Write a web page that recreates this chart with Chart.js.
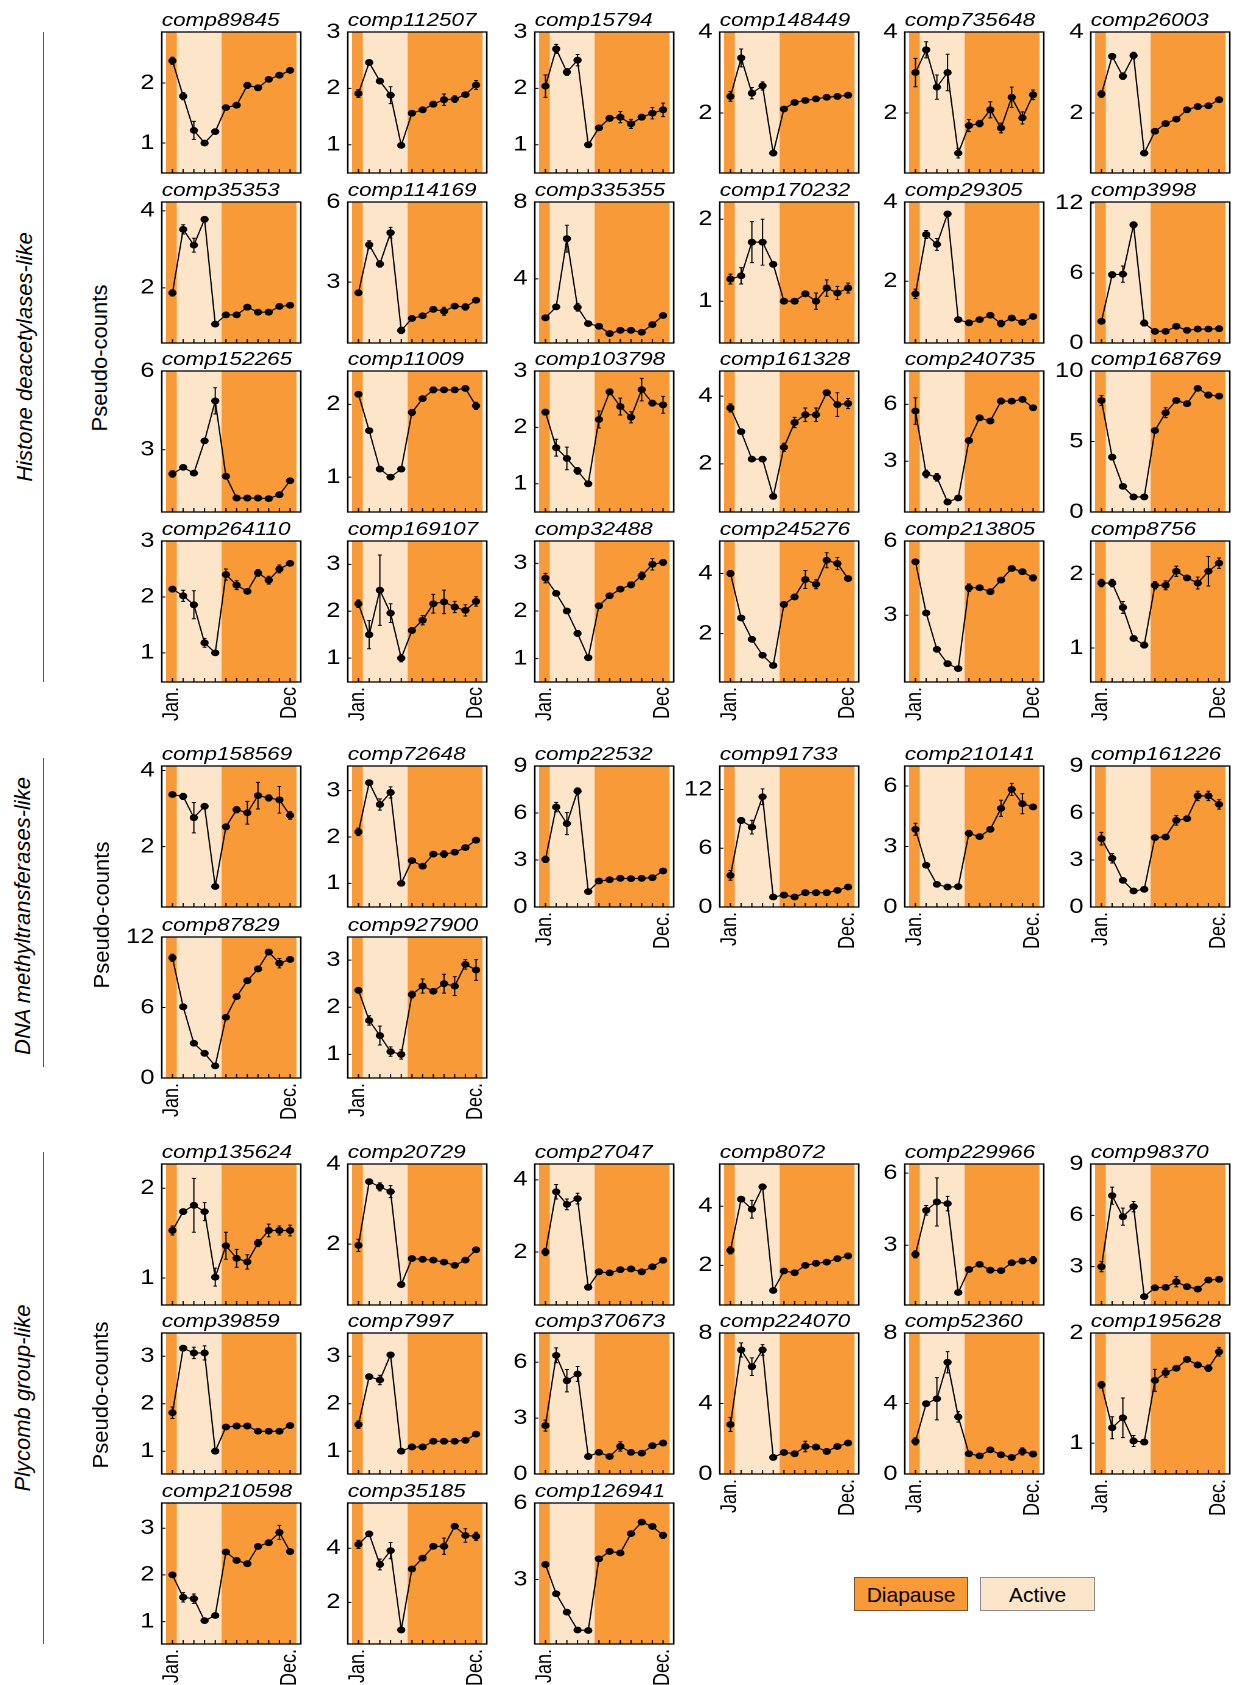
<!DOCTYPE html>
<html>
<head>
<meta charset="utf-8">
<script src="https://cdn.jsdelivr.net/npm/chart.js@4.4.1/dist/chart.umd.min.js"></script>
<style>
  body { margin: 0; background: #fff; width: 1237px; height: 1685px; position: relative; overflow: hidden;
         font-family: "Liberation Sans", Arial, sans-serif; color: #000; }
  .panel { position: absolute; transform-origin: 0 0; }
  .panel canvas { display: block; }
  .vlabel { position: absolute; white-space: nowrap; font-size: 22px; line-height: 1;
            transform: translate(-50%, -50%) rotate(-90deg); }
  .group { font-style: italic; }
  .bracket { position: absolute; left: 43px; width: 0; border-left: 1.5px solid #555; }
  .key { position: absolute; top: 1577px; height: 34px; line-height: 34px; text-align: center;
         font-size: 21px; box-sizing: border-box; }
</style>
</head>
<body>
<script>
// sampling months (x positions) and the season boundaries, in month units
const months = [1, 2, 3, 4, 5, 6, 7, 8, 9, 10, 11, 12];
const janLabel = 'Jan.';
const decLabels = ['Dec', 'Dec.', 'Dec.'];
const diapauseSpan = [0.4, 12.6];
const activeSpan = [1.4, 5.6];

const groupNames = ['Histone deacetylases-like', 'DNA methyltransferases-like', 'Plycomb group-like'];
const axisTitle = 'Pseudo-counts';
const legendLabels = ['Diapause', 'Active'];

const names = [
  'comp89845', 'comp112507', 'comp15794', 'comp148449', 'comp735648', 'comp26003',
  'comp35353', 'comp114169', 'comp335355', 'comp170232', 'comp29305', 'comp3998',
  'comp152265', 'comp11009', 'comp103798', 'comp161328', 'comp240735', 'comp168769',
  'comp264110', 'comp169107', 'comp32488', 'comp245276', 'comp213805', 'comp8756',
  'comp158569', 'comp72648', 'comp22532', 'comp91733', 'comp210141', 'comp161226',
  'comp87829', 'comp927900',
  'comp135624', 'comp20729', 'comp27047', 'comp8072', 'comp229966', 'comp98370',
  'comp39859', 'comp7997', 'comp370673', 'comp224070', 'comp52360', 'comp195628',
  'comp210598', 'comp35185', 'comp126941'
];

const yMin = [
  0.5, 0.5, 0.5, 0.52, 0.52, 0.52,
  0.57, 0.72, 0.66, 0.49, 0.44, 0,
  0.63, 0.52, 0.5, 0.58, 0.32, 0,
  0.48, 0.49, 0.51, 0.39, 0.3, 0.54,
  0.41, 0.49, 0, 0, 0, 0,
  0, 0.5,
  0.7, 0.48, 0.53, 0.66, 0.51, 0.76,
  0.52, 0.52, 0, 0, 0, 0.72,
  0.52, 0.46, 0.47
];
const yMax = [
  2.85, 3, 3, 4, 4, 4,
  4.23, 6, 8, 2.21, 4, 12.1,
  6, 2.46, 3, 4.74, 7.76, 10,
  3, 3.5, 3.47, 5.08, 6, 2.45,
  4.12, 3.53, 9, 14.4, 6.99, 9,
  12, 3.49,
  2.27, 4, 4.44, 5.43, 6.38, 9,
  3.49, 3.49, 7.57, 8, 8, 2,
  3.54, 5.67, 6
];
const yTicks = [
  [1, 2], [1, 2, 3], [1, 2, 3], [2, 4], [2, 4], [2, 4],
  [2, 4], [3, 6], [4, 8], [1, 2], [2, 4], [0, 6, 12],
  [3, 6], [1, 2], [1, 2, 3], [2, 4], [3, 6], [0, 5, 10],
  [1, 2, 3], [1, 2, 3], [1, 2, 3], [2, 4], [3, 6], [1, 2],
  [2, 4], [1, 2, 3], [0, 3, 6, 9], [0, 6, 12], [0, 3, 6], [0, 3, 6, 9],
  [0, 6, 12], [1, 2, 3],
  [1, 2], [2, 4], [2, 4], [2, 4], [3, 6], [3, 6, 9],
  [1, 2, 3], [1, 2, 3], [0, 3, 6], [0, 4, 8], [0, 4, 8], [1, 2],
  [1, 2, 3], [2, 4], [3, 6]
];

const values = [
  [2.37, 1.78, 1.21, 1.00, 1.19, 1.59, 1.63, 1.96, 1.92, 2.06, 2.13, 2.21],
  [1.91, 2.46, 2.13, 1.88, 0.99, 1.56, 1.62, 1.72, 1.80, 1.81, 1.89, 2.06],
  [2.04, 2.70, 2.29, 2.50, 1.00, 1.30, 1.47, 1.49, 1.37, 1.49, 1.56, 1.62],
  [2.41, 3.36, 2.49, 2.67, 1.01, 2.10, 2.26, 2.31, 2.35, 2.39, 2.41, 2.44],
  [3.00, 3.56, 2.64, 3.00, 1.01, 1.69, 1.74, 2.08, 1.63, 2.39, 1.88, 2.45],
  [2.47, 3.40, 2.91, 3.42, 1.01, 1.55, 1.74, 1.85, 2.08, 2.16, 2.18, 2.33],
  [1.87, 3.52, 3.11, 3.78, 1.06, 1.30, 1.30, 1.50, 1.37, 1.37, 1.52, 1.55],
  [2.60, 4.40, 3.68, 4.85, 1.19, 1.64, 1.74, 1.98, 1.91, 2.10, 2.07, 2.32],
  [1.97, 2.54, 6.09, 2.52, 1.67, 1.53, 1.15, 1.32, 1.32, 1.22, 1.62, 2.09],
  [1.27, 1.31, 1.72, 1.72, 1.45, 1.00, 1.00, 1.09, 1.00, 1.16, 1.10, 1.16],
  [1.68, 3.18, 2.93, 3.70, 1.03, 0.95, 1.03, 1.14, 0.93, 1.07, 0.96, 1.11],
  [1.86, 5.86, 5.91, 10.14, 1.71, 1.00, 1.00, 1.43, 1.09, 1.20, 1.20, 1.23],
  [2.08, 2.33, 2.11, 3.34, 4.86, 1.99, 1.16, 1.16, 1.16, 1.14, 1.29, 1.82],
  [2.14, 1.64, 1.11, 1.00, 1.11, 1.89, 2.08, 2.20, 2.20, 2.20, 2.22, 1.98],
  [2.27, 1.64, 1.45, 1.23, 1.00, 2.14, 2.63, 2.37, 2.18, 2.67, 2.43, 2.40],
  [3.65, 2.95, 2.14, 2.14, 1.04, 2.49, 3.22, 3.45, 3.45, 4.10, 3.75, 3.78],
  [5.65, 2.33, 2.15, 0.85, 1.06, 4.09, 5.29, 5.12, 6.17, 6.17, 6.26, 5.82],
  [7.91, 3.89, 1.82, 1.07, 1.07, 5.78, 7.04, 7.91, 7.68, 8.77, 8.29, 8.22],
  [2.14, 2.02, 1.86, 1.18, 1.00, 2.40, 2.21, 2.10, 2.43, 2.30, 2.50, 2.60],
  [2.16, 1.50, 2.45, 1.96, 1.00, 1.59, 1.81, 2.16, 2.20, 2.09, 2.02, 2.21],
  [2.69, 2.37, 2.00, 1.53, 1.02, 2.11, 2.32, 2.46, 2.55, 2.74, 2.98, 3.02],
  [4.00, 2.52, 1.81, 1.28, 0.94, 2.97, 3.22, 3.80, 3.64, 4.44, 4.33, 3.83],
  [5.16, 3.09, 1.62, 1.04, 0.84, 4.11, 4.11, 3.95, 4.42, 4.89, 4.76, 4.51],
  [1.88, 1.88, 1.55, 1.13, 1.04, 1.85, 1.85, 2.04, 1.95, 1.88, 2.04, 2.15],
  [3.37, 3.32, 2.76, 3.06, 0.95, 2.52, 2.97, 2.89, 3.34, 3.28, 3.23, 2.82],
  [2.11, 3.17, 2.70, 2.96, 1.00, 1.49, 1.37, 1.63, 1.63, 1.67, 1.77, 1.93],
  [3.04, 6.38, 5.32, 7.40, 0.98, 1.66, 1.74, 1.83, 1.81, 1.83, 1.87, 2.30],
  [3.23, 8.84, 8.16, 11.26, 1.02, 1.22, 1.02, 1.46, 1.46, 1.46, 1.70, 2.04],
  [3.85, 2.07, 1.12, 0.99, 1.01, 3.65, 3.49, 3.85, 4.89, 5.83, 5.12, 4.96],
  [4.36, 3.11, 1.70, 1.02, 1.13, 4.43, 4.47, 5.53, 5.64, 7.09, 7.09, 6.55],
  [10.23, 6.06, 2.96, 2.10, 1.03, 5.17, 6.93, 8.28, 9.28, 10.72, 9.77, 10.09],
  [2.36, 1.72, 1.40, 1.06, 1.00, 2.27, 2.45, 2.34, 2.50, 2.45, 2.91, 2.79],
  [1.53, 1.74, 1.81, 1.74, 1.01, 1.36, 1.22, 1.18, 1.39, 1.53, 1.53, 1.53],
  [1.97, 3.56, 3.43, 3.31, 0.99, 1.64, 1.62, 1.60, 1.55, 1.47, 1.60, 1.86],
  [2.00, 3.67, 3.32, 3.48, 1.02, 1.45, 1.42, 1.51, 1.53, 1.45, 1.59, 1.77],
  [2.51, 4.24, 3.90, 4.66, 1.15, 1.81, 1.75, 2.00, 2.07, 2.11, 2.23, 2.32],
  [2.62, 4.45, 4.80, 4.73, 1.03, 1.99, 2.20, 1.96, 1.94, 2.27, 2.34, 2.38],
  [3.00, 7.15, 5.92, 6.51, 1.25, 1.77, 1.79, 2.12, 1.83, 1.69, 2.22, 2.26],
  [1.81, 3.17, 3.07, 3.07, 1.00, 1.51, 1.53, 1.53, 1.42, 1.42, 1.42, 1.54],
  [1.56, 2.57, 2.50, 3.03, 1.00, 1.09, 1.09, 1.21, 1.21, 1.21, 1.23, 1.36],
  [2.60, 6.37, 5.01, 5.37, 0.94, 1.16, 0.94, 1.48, 1.16, 1.12, 1.52, 1.66],
  [2.81, 7.04, 6.09, 7.04, 0.94, 1.22, 1.15, 1.56, 1.53, 1.28, 1.56, 1.76],
  [1.85, 3.99, 4.27, 6.34, 3.24, 1.15, 1.03, 1.37, 1.09, 0.94, 1.28, 1.13],
  [1.53, 1.14, 1.23, 1.02, 1.01, 1.57, 1.64, 1.68, 1.76, 1.71, 1.68, 1.83],
  [2.00, 1.52, 1.49, 1.02, 1.13, 2.49, 2.31, 2.24, 2.61, 2.69, 2.91, 2.50],
  [4.14, 4.53, 3.40, 3.91, 0.98, 3.23, 3.63, 4.07, 4.07, 4.81, 4.47, 4.44],
  [3.59, 2.44, 1.72, 1.02, 1.00, 3.81, 4.10, 4.04, 4.80, 5.25, 5.08, 4.73]
];

// standard errors (half length of each error bar)
const errors = [
  [0.06, 0.06, 0.15, 0.03, 0.04, 0.04, 0.04, 0.05, 0.04, 0.04, 0.04, 0.03],
  [0.07, 0.03, 0.04, 0.15, 0.03, 0.03, 0.04, 0.05, 0.10, 0.06, 0.04, 0.08],
  [0.20, 0.08, 0.06, 0.10, 0.03, 0.04, 0.05, 0.10, 0.08, 0.05, 0.10, 0.12],
  [0.12, 0.22, 0.14, 0.10, 0.05, 0.05, 0.04, 0.05, 0.05, 0.06, 0.05, 0.06],
  [0.35, 0.20, 0.30, 0.45, 0.12, 0.15, 0.08, 0.20, 0.12, 0.25, 0.15, 0.12],
  [0.08, 0.04, 0.08, 0.08, 0.04, 0.04, 0.04, 0.05, 0.04, 0.04, 0.05, 0.04],
  [0.08, 0.12, 0.18, 0.05, 0.04, 0.06, 0.05, 0.04, 0.05, 0.05, 0.07, 0.05],
  [0.08, 0.15, 0.12, 0.20, 0.12, 0.05, 0.06, 0.10, 0.15, 0.07, 0.12, 0.06],
  [0.08, 0.08, 0.70, 0.20, 0.10, 0.06, 0.08, 0.06, 0.08, 0.05, 0.05, 0.06],
  [0.06, 0.10, 0.25, 0.28, 0.03, 0.03, 0.03, 0.03, 0.10, 0.10, 0.08, 0.06],
  [0.12, 0.10, 0.15, 0.06, 0.04, 0.04, 0.04, 0.05, 0.08, 0.04, 0.06, 0.05],
  [0.15, 0.25, 0.70, 0.25, 0.25, 0.20, 0.15, 0.12, 0.10, 0.12, 0.10, 0.15],
  [0.12, 0.06, 0.06, 0.08, 0.50, 0.05, 0.04, 0.04, 0.04, 0.05, 0.05, 0.05],
  [0.03, 0.03, 0.03, 0.02, 0.03, 0.04, 0.03, 0.04, 0.03, 0.03, 0.03, 0.05],
  [0.05, 0.15, 0.20, 0.06, 0.03, 0.15, 0.05, 0.15, 0.10, 0.20, 0.05, 0.15],
  [0.12, 0.05, 0.04, 0.04, 0.05, 0.12, 0.15, 0.20, 0.20, 0.05, 0.35, 0.15],
  [0.70, 0.20, 0.20, 0.08, 0.08, 0.10, 0.08, 0.08, 0.15, 0.12, 0.10, 0.10],
  [0.35, 0.20, 0.10, 0.08, 0.08, 0.15, 0.35, 0.15, 0.12, 0.15, 0.20, 0.15],
  [0.05, 0.10, 0.25, 0.08, 0.03, 0.10, 0.08, 0.04, 0.06, 0.07, 0.07, 0.04],
  [0.08, 0.30, 0.75, 0.20, 0.08, 0.06, 0.10, 0.20, 0.25, 0.12, 0.12, 0.10],
  [0.10, 0.04, 0.05, 0.06, 0.04, 0.04, 0.05, 0.05, 0.06, 0.08, 0.12, 0.06],
  [0.10, 0.05, 0.05, 0.05, 0.05, 0.06, 0.06, 0.30, 0.15, 0.25, 0.20, 0.08],
  [0.05, 0.08, 0.10, 0.06, 0.06, 0.15, 0.10, 0.08, 0.10, 0.10, 0.08, 0.12],
  [0.05, 0.05, 0.08, 0.03, 0.04, 0.05, 0.06, 0.07, 0.03, 0.08, 0.20, 0.07],
  [0.05, 0.08, 0.40, 0.03, 0.05, 0.05, 0.08, 0.30, 0.35, 0.08, 0.35, 0.10],
  [0.08, 0.04, 0.12, 0.12, 0.04, 0.04, 0.04, 0.04, 0.07, 0.04, 0.04, 0.04],
  [0.20, 0.30, 0.70, 0.20, 0.10, 0.08, 0.08, 0.08, 0.08, 0.08, 0.10, 0.10],
  [0.50, 0.30, 0.70, 0.80, 0.15, 0.10, 0.10, 0.10, 0.10, 0.10, 0.10, 0.12],
  [0.30, 0.10, 0.08, 0.06, 0.06, 0.15, 0.12, 0.12, 0.40, 0.30, 0.50, 0.12],
  [0.40, 0.30, 0.12, 0.08, 0.08, 0.12, 0.12, 0.30, 0.12, 0.30, 0.30, 0.30],
  [0.30, 0.15, 0.10, 0.08, 0.08, 0.12, 0.12, 0.12, 0.15, 0.12, 0.40, 0.15],
  [0.03, 0.10, 0.20, 0.10, 0.10, 0.07, 0.15, 0.04, 0.20, 0.20, 0.10, 0.22],
  [0.05, 0.03, 0.30, 0.10, 0.10, 0.15, 0.10, 0.08, 0.04, 0.07, 0.05, 0.06],
  [0.15, 0.04, 0.10, 0.15, 0.04, 0.04, 0.04, 0.04, 0.04, 0.04, 0.05, 0.04],
  [0.10, 0.20, 0.15, 0.15, 0.04, 0.04, 0.04, 0.05, 0.05, 0.04, 0.04, 0.04],
  [0.12, 0.06, 0.30, 0.06, 0.05, 0.05, 0.05, 0.05, 0.05, 0.05, 0.05, 0.05],
  [0.15, 0.20, 1.00, 0.30, 0.05, 0.06, 0.06, 0.10, 0.06, 0.08, 0.10, 0.15],
  [0.30, 0.50, 0.50, 0.30, 0.10, 0.10, 0.10, 0.30, 0.10, 0.10, 0.10, 0.10],
  [0.12, 0.04, 0.12, 0.15, 0.03, 0.05, 0.04, 0.05, 0.04, 0.04, 0.05, 0.04],
  [0.08, 0.04, 0.10, 0.05, 0.03, 0.04, 0.04, 0.05, 0.04, 0.04, 0.04, 0.04],
  [0.30, 0.40, 0.60, 0.40, 0.15, 0.12, 0.10, 0.25, 0.10, 0.10, 0.12, 0.10],
  [0.40, 0.40, 0.50, 0.30, 0.12, 0.10, 0.10, 0.30, 0.10, 0.12, 0.12, 0.12],
  [0.20, 0.10, 1.20, 0.60, 0.30, 0.10, 0.10, 0.10, 0.10, 0.10, 0.20, 0.10],
  [0.03, 0.10, 0.18, 0.05, 0.02, 0.10, 0.04, 0.02, 0.02, 0.02, 0.03, 0.04],
  [0.03, 0.10, 0.10, 0.04, 0.04, 0.05, 0.05, 0.04, 0.04, 0.04, 0.15, 0.05],
  [0.15, 0.05, 0.20, 0.30, 0.05, 0.05, 0.05, 0.05, 0.30, 0.05, 0.25, 0.15],
  [0.04, 0.06, 0.06, 0.05, 0.05, 0.05, 0.05, 0.05, 0.05, 0.05, 0.10, 0.12]
];

// ---- layout (page pixels) ----
const DIAPAUSE = '#F89A37';
const ACTIVE = '#FDE5CA';
const colX = [162, 348, 535, 720, 905, 1091];
const rowY = [32, 202, 371, 541, 766, 937, 1164, 1333, 1503];
const rowCounts = [6, 6, 6, 6, 6, 2, 6, 6, 3];
const rowGroup = [0, 0, 0, 0, 1, 1, 2, 2, 2];
const groupLabelPos = [[25, 357], [23, 916], [23, 1398]];
const axisTitlePos = [[100, 358], [102, 915], [101, 1395]];
const bracketSpan = [[32, 682], [758, 1067], [1152, 1644]];

// panels are drawn narrow and stretched sideways, like the original figure
const AW = 114, AH = 141, K = 139 / AW;
const YW = 40, RP = 4, TT = 30, XH = 46;

Chart.defaults.font.family = '"Liberation Sans", Arial, sans-serif';
Chart.defaults.color = '#000';

const panelPlugin = {
  id: 'panel',
  beforeDatasetsDraw(chart, args, opts) {
    const { ctx, chartArea: a, scales: { x, y } } = chart;
    ctx.save();
    ctx.fillStyle = '#fff';
    ctx.fillRect(a.left, a.top, a.width, a.height);
    const d0 = x.getPixelForValue(diapauseSpan[0]), d1 = x.getPixelForValue(diapauseSpan[1]);
    const a0 = x.getPixelForValue(activeSpan[0]), a1 = x.getPixelForValue(activeSpan[1]);
    ctx.fillStyle = DIAPAUSE;
    ctx.fillRect(d0, a.top, d1 - d0, a.height);
    ctx.fillStyle = ACTIVE;
    ctx.fillRect(a0, a.top, a1 - a0, a.height);

    // error bars
    ctx.strokeStyle = '#000';
    ctx.lineWidth = 1;
    const vals = values[opts.index], errs = errors[opts.index];
    vals.forEach((v, j) => {
      const px = x.getPixelForValue(months[j]);
      const top = y.getPixelForValue(v + errs[j]);
      const bot = y.getPixelForValue(v - errs[j]);
      ctx.beginPath();
      ctx.moveTo(px, top); ctx.lineTo(px, bot);
      ctx.moveTo(px - 1.6, top); ctx.lineTo(px + 1.6, top);
      ctx.moveTo(px - 1.6, bot); ctx.lineTo(px + 1.6, bot);
      ctx.stroke();
    });
    ctx.restore();
  },
  afterDraw(chart, args, opts) {
    const { ctx, chartArea: a, scales: { x, y } } = chart;
    ctx.save();
    ctx.strokeStyle = '#000';
    ctx.lineWidth = 1;
    ctx.beginPath();
    months.forEach(m => {
      const px = x.getPixelForValue(m);
      ctx.moveTo(px, a.bottom); ctx.lineTo(px, a.bottom - 4);
    });
    yTicks[opts.index].forEach(t => {
      const py = y.getPixelForValue(t);
      ctx.moveTo(a.left, py); ctx.lineTo(a.left + 3, py);
    });
    ctx.stroke();
    ctx.lineWidth = 1.3;
    ctx.strokeRect(a.left, a.top, a.width, a.height);
    ctx.fillStyle = '#000';
    ctx.font = 'italic 18.5px "Liberation Sans", Arial, sans-serif';
    ctx.textBaseline = 'alphabetic';
    ctx.textAlign = 'left';
    ctx.fillText(names[opts.index], a.left, a.top - 6);
    ctx.restore();
  }
};

let idx = 0;
rowCounts.forEach((count, r) => {
  for (let c = 0; c < count; c++) {
    const i = idx++;
    const g = rowGroup[r];
    const below = r + 1 < rowCounts.length && rowGroup[r + 1] === g && rowCounts[r + 1] > c;
    const labelled = !below;

    const div = document.createElement('div');
    div.className = 'panel';
    div.style.left = (colX[c] - YW * K) + 'px';
    div.style.top = (rowY[r] - TT) + 'px';
    div.style.transform = 'scaleX(' + K + ')';
    const cv = document.createElement('canvas');
    cv.width = YW + AW + RP;
    cv.height = TT + AH + XH;
    div.appendChild(cv);
    document.body.appendChild(div);

    new Chart(cv, {
      type: 'line',
      data: {
        datasets: [{
          data: values[i].map((v, j) => ({ x: months[j], y: v })),
          borderColor: '#000',
          borderWidth: 1.1,
          pointRadius: 3.4,
          pointBackgroundColor: '#000',
          pointBorderColor: '#000',
          pointBorderWidth: 0,
          tension: 0,
          clip: false
        }]
      },
      options: {
        responsive: false,
        animation: false,
        devicePixelRatio: 2,
        events: [],
        layout: { padding: { top: TT, right: RP, left: 0, bottom: 0 } },
        plugins: {
          legend: { display: false },
          tooltip: { enabled: false },
          panel: { index: i }
        },
        scales: {
          x: {
            type: 'linear',
            min: 0,
            max: 13,
            afterBuildTicks: s => { s.ticks = months.map(m => ({ value: m })); },
            afterFit: s => { s.height = XH; s.paddingLeft = 0; s.paddingRight = 0; },
            grid: { display: false, drawTicks: false },
            border: { display: false },
            ticks: {
              autoSkip: false,
              minRotation: 90,
              maxRotation: 90,
              padding: 5,
              font: { size: 18 },
              callback: v => {
                if (!labelled) return '';
                if (v === months[0]) return janLabel;
                if (v === months[months.length - 1]) return decLabels[g];
                return '';
              }
            }
          },
          y: {
            type: 'linear',
            min: yMin[i],
            max: yMax[i],
            afterBuildTicks: s => { s.ticks = yTicks[i].map(t => ({ value: t })); },
            afterFit: s => { s.width = YW; s.paddingTop = 0; s.paddingBottom = 0; },
            grid: { display: false, drawTicks: false },
            border: { display: false },
            ticks: { padding: 6, font: { size: 21 }, callback: v => String(v) }
          }
        }
      },
      plugins: [panelPlugin]
    });
  }
});

// group labels, axis titles and brackets
groupNames.forEach((name, g) => {
  const gl = document.createElement('div');
  gl.className = 'vlabel group';
  gl.textContent = name;
  gl.style.left = groupLabelPos[g][0] + 'px';
  gl.style.top = groupLabelPos[g][1] + 'px';
  document.body.appendChild(gl);

  const at = document.createElement('div');
  at.className = 'vlabel';
  at.textContent = axisTitle;
  at.style.left = axisTitlePos[g][0] + 'px';
  at.style.top = axisTitlePos[g][1] + 'px';
  document.body.appendChild(at);

  const br = document.createElement('div');
  br.className = 'bracket';
  br.style.top = bracketSpan[g][0] + 'px';
  br.style.height = (bracketSpan[g][1] - bracketSpan[g][0]) + 'px';
  document.body.appendChild(br);
});

// legend keys
const keyStyle = [
  { left: 854, width: 114, bg: DIAPAUSE, border: '#7a5530' },
  { left: 980, width: 115, bg: ACTIVE, border: '#8c8c8c' }
];
legendLabels.forEach((label, k) => {
  const key = document.createElement('div');
  key.className = 'key';
  key.textContent = label;
  key.style.left = keyStyle[k].left + 'px';
  key.style.width = keyStyle[k].width + 'px';
  key.style.background = keyStyle[k].bg;
  key.style.border = '1.5px solid ' + keyStyle[k].border;
  document.body.appendChild(key);
});
</script>
</body>
</html>
